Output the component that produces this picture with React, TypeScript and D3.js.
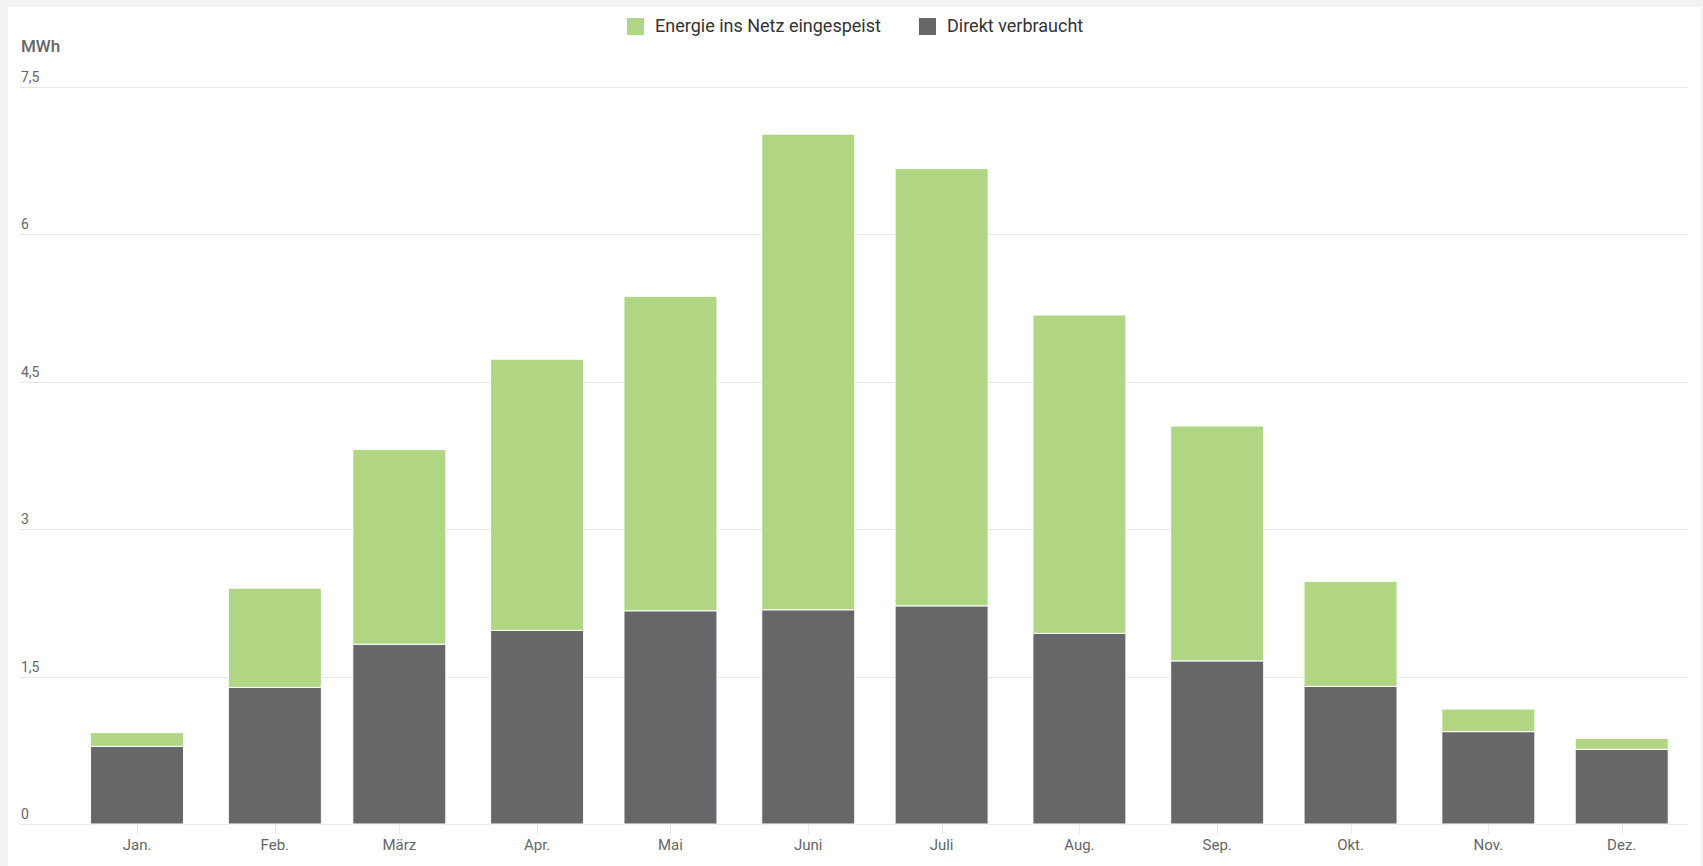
import React from "react";
import * as d3 from "d3";

const months = ["Jan.", "Feb.", "März", "Apr.", "Mai", "Juni", "Juli", "Aug.", "Sep.", "Okt.", "Nov.", "Dez."];
const direktVerbraucht = [0.79, 1.39, 1.83, 1.97, 2.17, 2.18, 2.22, 1.94, 1.66, 1.4, 0.94, 0.76];
const eingespeist = [0.14, 1.01, 1.98, 2.76, 3.2, 4.84, 4.45, 3.24, 2.39, 1.07, 0.23, 0.11];
const yTicks = [0, 1.5, 3, 4.5, 6, 7.5];
const seriesNames = ["Energie ins Netz eingespeist", "Direkt verbraucht"];
const YEAR = 2023;

const W = 1703;
const H = 866;
const GREEN = "#b0d684";
const DARK = "#666769";
const FONT = "Roboto, 'Noto Sans', sans-serif";

export default function App() {
  const x = d3
    .scaleTime()
    .domain([new Date(YEAR - 1, 11, 5, 16), new Date(YEAR, 11, 15, 22)])
    .range([20, 1688]);
  const y = d3.scaleLinear().domain([0, 7.5]).range([824, 87]);
  const fmt = (v: number) => d3.format("~g")(v).replace(".", ",");
  const barW = 93;

  const rows = months.map((m, i) => ({
    m,
    date: new Date(YEAR, i, 1),
    d: direktVerbraucht[i],
    e: eingespeist[i],
  }));
  const stack = d3.stack<any>().keys(["d", "e"])(rows);

  return (
    <svg
      width={W}
      height={H}
      style={{ position: "absolute", left: 0, top: 0, display: "block" }}
      fontFamily={FONT}
    >
      <rect x={0} y={0} width={W} height={H} fill="#f4f2f2" />
      <rect x={8} y={7} width={1693} height={H - 7} fill="#ffffff" />

      {/* legend */}
      <g>
        <rect x={627} y={18} width={17} height={17} fill={GREEN} />
        <text x={655} y={32} fontSize={18} fill="#333">
          {seriesNames[0]}
        </text>
        <rect x={919} y={18} width={17} height={17} fill={DARK} />
        <text x={947} y={32} fontSize={18} fill="#333">
          {seriesNames[1]}
        </text>
      </g>

      {/* unit */}
      <text x={21} y={52} fontSize={17} fontWeight={500} fill="#666">
        MWh
      </text>

      {/* gridlines + y labels */}
      {yTicks.map((t) => (
        <g key={t}>
          <line x1={20} x2={1688} y1={Math.round(y(t)) + 0.5} y2={Math.round(y(t)) + 0.5} stroke="#e6e6e6" strokeWidth={1} />
          <text x={21} y={y(t) - 5} fontSize={14} fill="#666">
            {fmt(t)}
          </text>
        </g>
      ))}

      {/* bars */}
      {stack.map((layer, li) => (
        <g key={li} fill={li === 0 ? DARK : GREEN}>
          {layer.map((seg, i) => (
            <rect
              key={i}
              x={x(rows[i].date) - barW / 2}
              y={y(seg[1])}
              width={barW}
              height={y(seg[0]) - y(seg[1])}
              stroke="#ffffff"
              strokeWidth={1}
            />
          ))}
        </g>
      ))}

      {/* x ticks + labels */}
      {rows.map((r) => (
        <g key={r.m}>
          <line
            x1={Math.round(x(r.date)) + 0.5}
            x2={Math.round(x(r.date)) + 0.5}
            y1={825}
            y2={834}
            stroke="#e6e6e6"
          />
          <text x={x(r.date)} y={850} fontSize={15} fill="#666" textAnchor="middle">
            {r.m}
          </text>
        </g>
      ))}
    </svg>
  );
}
